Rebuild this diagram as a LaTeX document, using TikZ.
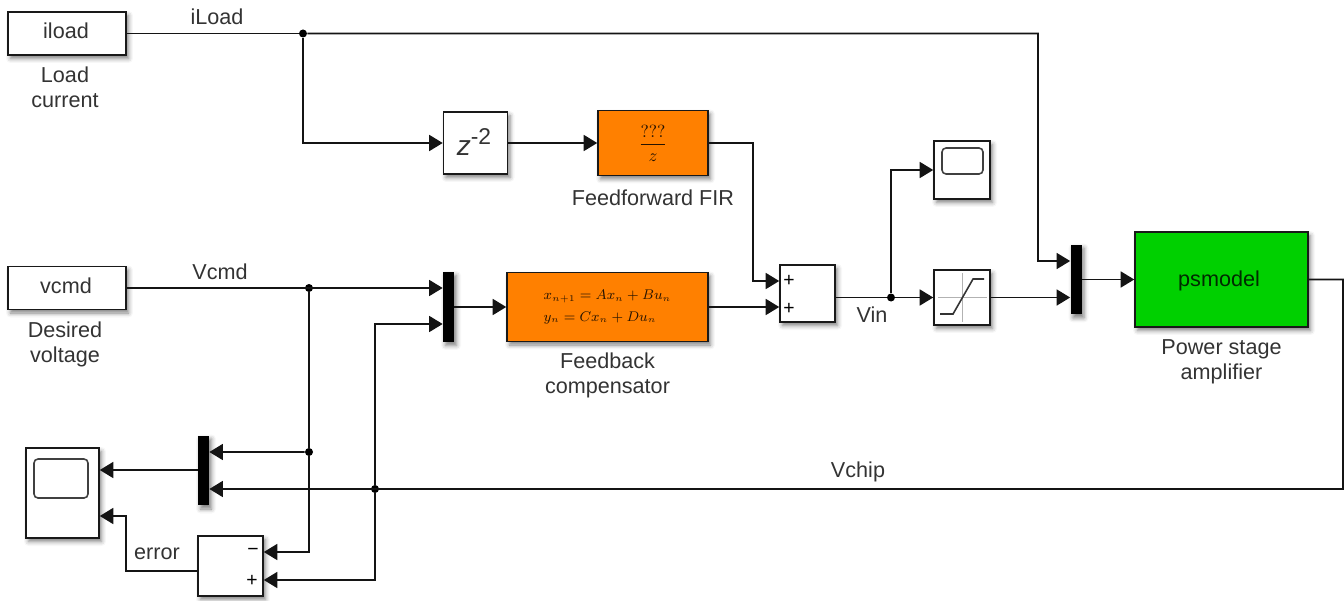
\documentclass[tikz,border=0pt]{standalone}
\usepackage{amsmath}
\usepackage[no-math]{fontspec}
\setmainfont{Liberation Sans}
\usetikzlibrary{arrows.meta, positioning, shadows, shadows.blur}

\definecolor{simorange}{RGB}{255,128,0}
\definecolor{simgreen}{RGB}{0,208,0}

\begin{document}
\begin{tikzpicture}[
    x=0.02cm, y=-0.02cm,
    softshadow/.style={blur shadow={shadow xshift=0.05cm, shadow yshift=-0.07cm, shadow blur radius=0.09cm, shadow opacity=50}},
    blk/.style={rectangle, draw=black!90, line width=0.9pt, fill=white, inner sep=0pt, softshadow},
    comp/.style={blk, fill=simorange, text=black!85!simorange},
    muxbar/.style={rectangle, fill=black, inner sep=0pt, minimum width=0.22cm, minimum height=1.4cm, softshadow},
    lbl/.style={font=\fontsize{12.3}{14.4}\selectfont, text=black!80, align=center, inner sep=0pt},
    blktxt/.style={font=\fontsize{12.3}{14.4}\selectfont, text=black!80},
    sign/.style={font=\fontsize{11}{11}\selectfont, inner sep=0pt},
    arr/.style={-{Triangle[length=0.27cm, width=0.32cm]}, line width=0.9pt, black!92},
    wire/.style={line width=0.9pt, black!92},
    jdot/.style={circle, fill=black, inner sep=0pt, minimum size=0.16cm},
    screen/.style={draw=black!75, line width=0.9pt, rounded corners=0.08cm},
]
\useasboundingbox (0,0) rectangle (1344,601);

% sources
\node[blk, minimum width=2.36cm, minimum height=0.86cm] (iload) at (67,33.5) {};
\node[blk, minimum width=2.36cm, minimum height=0.86cm] (vcmd) at (67,288) {};
\node[blktxt] (iloadtxt) at (66,31) {iload};
\node[blktxt] (vcmdtxt) at (66,286) {vcmd};
\node[lbl] (iloadlbl) at (65,87.5) {Load\\current};
\node[lbl] (vcmdlbl) at (65,344.5) {Desired\\voltage};

% feedforward path
\node[blk, minimum width=1.28cm, minimum height=1.24cm] (delay) at (475.5,143) {};
\node[text=black!80, inner sep=0pt] (delaytxt) at (474,142)
    {\fontsize{16}{16}\selectfont\textit{z}\raisebox{0.7ex}{\fontsize{13}{13}\selectfont-2}};
\node[comp, minimum width=2.2cm, minimum height=1.3cm] (fir) at (653,143)
    {\fontsize{10}{10}\selectfont$\dfrac{???}{z}$};
\node[lbl, below=0.26cm of fir] (firlbl) {Feedforward FIR};

% feedback path
\node[muxbar] (muxa) at (448.5,307) {};
\node[comp, minimum width=4.02cm, minimum height=1.38cm, align=left] (comp) at (607.5,307)
    {\fontsize{7.6}{13.5}\selectfont$x_{n+1} = Ax_n + Bu_n$\\[0.1pt]\fontsize{7.6}{13.5}\selectfont$y_n = Cx_n + Du_n$};
\node[lbl, below=0.2cm of comp] (complbl) {Feedback\\compensator};

% summing and saturation
\node[blk, minimum width=1.1cm, minimum height=1.14cm] (sum) at (807.5,293.5) {};
\node[blk, minimum width=1.12cm, minimum height=1.16cm] (scopea) at (962,170) {};
\node[blk, minimum width=1.12cm, minimum height=1.1cm] (sat) at (962,297.5) {};
\node[muxbar] (muxc) at (1076,279.5) {};
\node[blk, fill=simgreen, minimum width=3.46cm, minimum height=1.9cm] (amp) at (1221.5,279.5) {};
\node[blktxt, text=black!80!simgreen] (amptxt) at (1219,281) {psmodel};
\node[lbl, below=0.22cm of amp] (amplbl) {Power stage\\amplifier};

% monitoring
\node[blk, minimum width=1.46cm, minimum height=1.8cm] (scopeb) at (62.5,493) {};
\node[muxbar] (muxb) at (203.5,470.5) {};
\node[blk, minimum width=1.3cm, minimum height=1.2cm] (diff) at (230.5,566) {};

% block icons
\node[screen, minimum width=0.82cm, minimum height=0.52cm, inner sep=0pt] (screena) at (962.5,161) {};
\node[screen, minimum width=1.08cm, minimum height=0.78cm, inner sep=0pt] (screenb) at (61,478.5) {};
\draw[black!30, thin] (962,273) -- (962,322) (938,297.5) -- (987,297.5);
\draw[black!80, line width=0.9pt] (940,314) -- (953,314) -- (973,279) -- (984,279);
\node[sign] (sumplusa) at (789,281) {+};
\node[sign] (sumplusb) at (789,309) {+};
\node[sign] (diffminus) at (253,552) {\textminus};
\node[sign] (diffplus) at (252,581) {+};

% ports and turns
\coordinate (suma) at ([yshift=0.25cm]sum.west);
\coordinate (sumb) at (comp.east -| sum.west);
\coordinate (sumout) at (sat.west -| sum.east);
\coordinate (muxaa) at (vcmd.east -| muxa.west);
\coordinate (muxab) at ([yshift=-0.34cm]muxa.west);
\coordinate (muxba) at ([yshift=0.37cm]muxb.east);
\coordinate (muxbb) at ([yshift=-0.37cm]muxb.east);
\coordinate (muxca) at ([yshift=0.37cm]muxc.west);
\coordinate (muxcb) at (sat.east -| muxc.west);
\coordinate (scopeba) at ([yshift=0.46cm]scopeb.east);
\coordinate (scopebb) at ([yshift=-0.46cm]scopeb.east);
\coordinate (diffa) at ([yshift=0.28cm]diff.east);
\coordinate (diffb) at ([yshift=-0.28cm]diff.east);
\coordinate (diffout) at ([yshift=-0.1cm]diff.west);
\coordinate (turnload) at (1038,261);
\coordinate (turnfir) at (753,281);
\coordinate (turnerr) at (126,516);
\coordinate (turnchip) at (1343,489);

% junctions
\node[jdot] (jload) at (303,33.5) {};
\node[jdot] (jvcmd) at (309,288) {};
\node[jdot] (jcmd) at (309,452) {};
\node[jdot] (jchip) at (375,489) {};
\node[jdot] (jvin) at (891,297.5) {};

% connectors
\draw[wire] (iload.east) -- (jload);
\draw[arr] (jload) -| (turnload) -- (muxca);
\draw[arr] (jload) |- (delay.west);
\draw[arr] (delay.east) -- (fir.west);
\draw[arr] (fir.east) -| (turnfir) -- (suma);
\draw[arr] (vcmd.east) -- (muxaa);
\draw[arr] (muxa.east) -- (comp.west);
\draw[arr] (comp.east) -- (sumb);
\draw[wire] (sumout) -- (jvin);
\draw[arr] (jvin) -- (sat.west);
\draw[arr] (jvin) |- (scopea.west);
\draw[arr] (sat.east) -- (muxcb);
\draw[arr] (muxc.east) -- (amp.west);
\draw[arr] (amp.east) -| (turnchip) -- (muxbb);
\draw[wire] (jvcmd) -- (jcmd);
\draw[arr] (jcmd) -- (muxba);
\draw[arr] (jcmd) |- (diffa);
\draw[arr] (jchip) |- (muxab);
\draw[arr] (jchip) |- (diffb);
\draw[arr] (muxb.west |- scopeba) -- (scopeba);
\draw[arr] (diffout) -| (turnerr) -- (scopebb);

% signal names
\node[lbl] (iloadsig) at (217,17) {iLoad};
\node[lbl] (vcmdsig) at (220,272) {Vcmd};
\node[lbl] (vinsig) at (872,315) {Vin};
\node[lbl] (vchipsig) at (858,472) {Vchip};
\node[lbl] (errorsig) at (157,554) {error};
\end{tikzpicture}
\end{document}
